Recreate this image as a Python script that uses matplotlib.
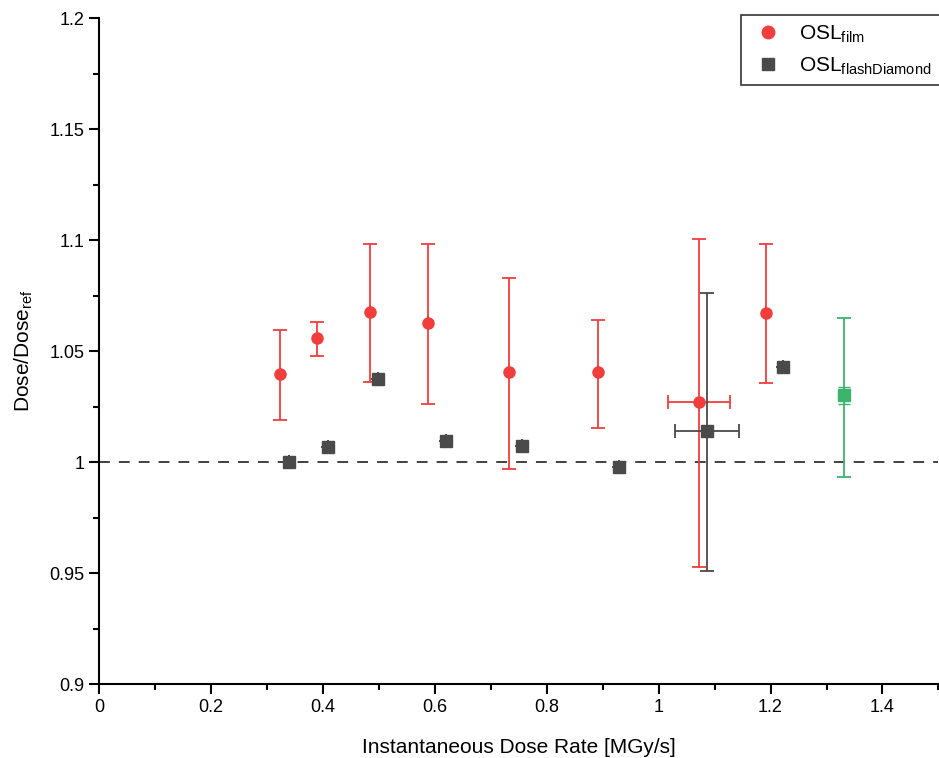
import matplotlib.pyplot as plt
from matplotlib.lines import Line2D
from matplotlib.ticker import MultipleLocator

plt.rcParams['font.family'] = ['Liberation Sans', 'DejaVu Sans']

# OSL vs film
film_x = [0.324, 0.389, 0.484, 0.588, 0.733, 0.891, 1.072, 1.192]
film_y = [1.0396, 1.0559, 1.0676, 1.0626, 1.0405, 1.0405, 1.027, 1.067]
film_lo = [1.019, 1.0477, 1.036, 1.026, 0.9968, 1.0153, 0.9527, 1.0356]
film_hi = [1.0595, 1.063, 1.098, 1.098, 1.0829, 1.064, 1.1005, 1.098]
film_xerr = [0, 0, 0, 0, 0, 0, 0.056, 0]

# OSL vs flashDiamond
fd_x = [0.339, 0.409, 0.498, 0.620, 0.756, 0.930, 1.086, 1.222]
fd_y = [1.0, 1.0068, 1.0374, 1.0095, 1.0072, 0.9977, 1.014, 1.0428]
fd_lo = [1.0, 1.0068, 1.0374, 1.0095, 1.0072, 0.9977, 0.951, 1.0428]
fd_hi = [1.0, 1.0068, 1.0374, 1.0095, 1.0072, 0.9977, 1.076, 1.0428]
fd_xerr = [0, 0, 0, 0, 0, 0, 0.057, 0]

# extra point (green)
g_x = [1.332]
g_y = [1.030]
g_lo = [0.9932]
g_hi = [1.065]
g_small_yerr = [0.004]
g_small_xerr = [0.006]

red = '#f23d3d'
grey = '#4a4a4a'
green = '#3cb46e'

fig = plt.figure(figsize=(9.39, 7.58), dpi=100)
ax = fig.add_axes([0.1054, 0.0976, 0.894, 0.8786])

ax.axhline(1.0, color='#333333', ls=(0, (6, 5)), lw=1.3, zorder=1)

ax.errorbar(film_x, film_y,
            yerr=[[y - l for y, l in zip(film_y, film_lo)], [h - y for y, h in zip(film_y, film_hi)]],
            xerr=film_xerr, fmt='o', color=red, ms=8, elinewidth=1.3, capsize=5, capthick=1.3, zorder=3)
ax.errorbar(fd_x, fd_y,
            yerr=[[y - l for y, l in zip(fd_y, fd_lo)], [h - y for y, h in zip(fd_y, fd_hi)]],
            xerr=fd_xerr, fmt='s', color=grey, ms=8, elinewidth=1.3, capsize=5, capthick=1.3, zorder=3)
ax.errorbar(g_x, g_y,
            yerr=[[g_y[0] - g_lo[0]], [g_hi[0] - g_y[0]]],
            fmt='s', color=green, ms=9, elinewidth=1.3, capsize=5, capthick=1.3, zorder=3)
ax.errorbar(g_x, g_y, yerr=g_small_yerr, xerr=g_small_xerr,
            fmt='none', ecolor=green, elinewidth=1.0, capsize=4, capthick=1.0, zorder=4)

ax.set_xlim(0, 1.5)
ax.set_ylim(0.9, 1.2)
ax.xaxis.set_minor_locator(MultipleLocator(0.1))
ax.yaxis.set_minor_locator(MultipleLocator(0.025))
ax.set_xticks([0, 0.2, 0.4, 0.6, 0.8, 1.0, 1.2, 1.4])
ax.set_xticklabels(['0', '0.2', '0.4', '0.6', '0.8', '1', '1.2', '1.4'])
ax.set_yticks([0.9, 0.95, 1.0, 1.05, 1.1, 1.15, 1.2])
ax.set_yticklabels(['0.9', '0.95', '1', '1.05', '1.1', '1.15', '1.2'])

ax.spines['top'].set_visible(False)
ax.spines['right'].set_visible(False)
ax.spines['left'].set_linewidth(1.5)
ax.spines['bottom'].set_linewidth(1.5)
ax.tick_params(which='major', direction='out', length=7, width=1.5, labelsize=13)
ax.tick_params(which='minor', direction='out', length=4, width=1.5)

ax.set_xlabel('Instantaneous Dose Rate [MGy/s]', fontsize=15, labelpad=16)
ax.set_ylabel(r'Dose/Dose$_{\mathregular{ref}}$', fontsize=15, labelpad=10)

handles = [Line2D([], [], ls='none', marker='o', color=red, ms=9),
           Line2D([], [], ls='none', marker='s', color=grey, ms=9)]
labels = [r'OSL$_{\mathregular{film}}$', r'OSL$_{\mathregular{flashDiamond}}$']
leg = ax.legend(handles, labels, loc='upper right', bbox_to_anchor=(1.002, 1.005),
                fontsize=15, frameon=True, fancybox=False, edgecolor='black',
                borderaxespad=0, handletextpad=0.6, handlelength=1.8,
                borderpad=0.4, labelspacing=0.5)
leg.get_frame().set_linewidth(1.2)

fig.savefig('out.png', dpi=100)
